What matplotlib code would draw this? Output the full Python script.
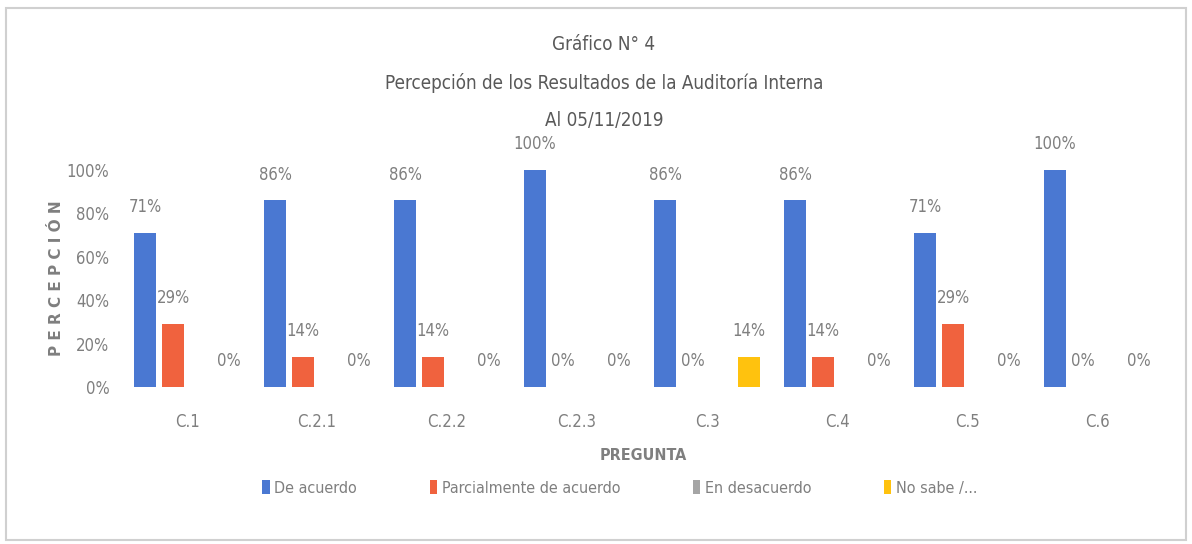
import matplotlib
matplotlib.use("Agg")
import matplotlib.pyplot as plt
import numpy as np
from matplotlib.patches import Rectangle

plt.rcParams['font.family'] = ['DejaVu Sans']
plt.rcParams['font.stretch'] = 'condensed'

categories = ["C.1", "C.2.1", "C.2.2", "C.2.3", "C.3", "C.4", "C.5", "C.6"]
series_names = ["De acuerdo", "Parcialmente de acuerdo", "En desacuerdo", "No sabe /..."]
de_acuerdo = [0.71, 0.86, 0.86, 1.00, 0.86, 0.86, 0.71, 1.00]
parcialmente = [0.29, 0.14, 0.14, 0.00, 0.00, 0.14, 0.29, 0.00]
en_desacuerdo = [np.nan] * 8
no_sabe = [0.00, 0.00, 0.00, 0.00, 0.14, 0.00, 0.00, 0.00]
y_ticks = [0, 0.2, 0.4, 0.6, 0.8, 1.0]
y_tick_labels = ["0%", "20%", "40%", "60%", "80%", "100%"]

colors = ["#4a78d2", "#f0623e", "#a5a5a5", "#ffc20e"]
series = [de_acuerdo, parcialmente, en_desacuerdo, no_sabe]

fig = plt.figure(figsize=(11.92, 5.44), dpi=100)
ax = fig.add_axes([122/1192, 1-387/544, 1040/1192, 217/544])

x = np.arange(len(categories))
step = 0.215
width = 0.17
label_gray = "#7f7f7f"
for i, (vals, name, c) in enumerate(zip(series, series_names, colors)):
    pos = x + (i - 1.5) * step
    arr = np.array(vals, dtype=float)
    ax.bar(pos, arr, width=width, color=c, label=name, zorder=2)
    for px, v in zip(pos, arr):
        if not np.isnan(v):
            ax.annotate(f"{v*100:.0f}%", (px, v), xytext=(0, 18.5),
                        textcoords="offset points", ha="center", va="center",
                        fontsize=12, color=label_gray, annotation_clip=False)

ax.set_xlim(-0.5, len(categories) - 0.5)
ax.set_ylim(0, 1.0)
ax.set_yticks(y_ticks)
ax.set_yticklabels(y_tick_labels)
ax.set_xticks(x)
ax.set_xticklabels(categories)
ax.tick_params(axis='both', length=0, labelsize=12, labelcolor=label_gray)
ax.tick_params(axis='y', pad=9)
ax.tick_params(axis='x', pad=19)
for s in ax.spines.values():
    s.set_visible(False)

fig.text(57/1192, 1-278/544, "P E R C E P C I Ó N", rotation=90, ha="center", va="center",
         fontsize=11, fontweight="bold", color=label_gray, fontstretch='normal')
fig.text(643/1192, 1-456/544, "PREGUNTA", ha="center", va="center",
         fontsize=11.5, fontweight="bold", color=label_gray)

title_color = "#595959"
fig.text(604/1192, 1-45/544, "Gráfico N° 4", ha="center", va="center", fontsize=13.5, color=title_color)
fig.text(604/1192, 1-83/544, "Percepción de los Resultados de la Auditoría Interna",
         ha="center", va="center", fontsize=13.5, color=title_color)
fig.text(604/1192, 1-120/544, "Al 05/11/2019", ha="center", va="center", fontsize=13.5, color=title_color)

leg = fig.legend(loc="center", bbox_to_anchor=(620/1192, 1-488/544), ncol=4, frameon=False,
                 fontsize=11.5, handlelength=0.45, handleheight=1.0, handletextpad=0.3,
                 columnspacing=4.55, labelcolor=label_gray)

fig.add_artist(Rectangle((6/1192, 4/544), 1180/1192, 532/544, transform=fig.transFigure,
                         fill=False, edgecolor="#d0d0d0", linewidth=1.5))

fig.savefig("out.png", dpi=100)
